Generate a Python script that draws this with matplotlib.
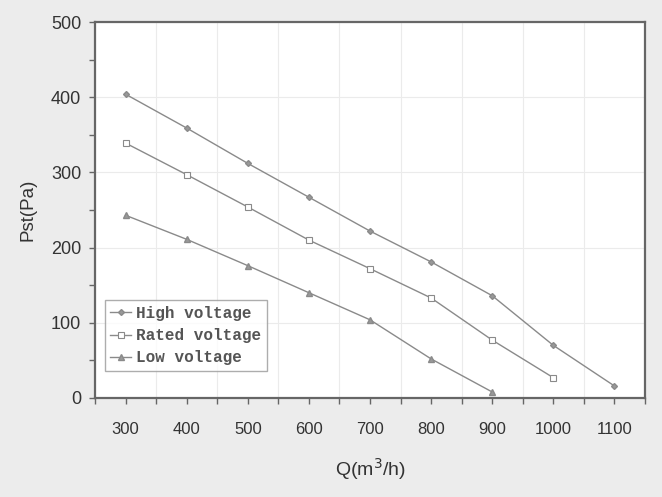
import matplotlib
matplotlib.use("Agg")
import matplotlib.pyplot as plt
from matplotlib.ticker import MultipleLocator

q_high = [300, 400, 500, 600, 700, 800, 900, 1000, 1100]
p_high = [404, 359, 312, 267, 222, 181, 136, 70, 16]
q_rated = [300, 400, 500, 600, 700, 800, 900, 1000]
p_rated = [339, 297, 254, 210, 172, 133, 77, 27]
q_low = [300, 400, 500, 600, 700, 800, 900]
p_low = [243, 211, 176, 140, 104, 52, 8]
x_ticks = [300, 400, 500, 600, 700, 800, 900, 1000, 1100]
y_ticks = [0, 100, 200, 300, 400, 500]

plt.rcParams['font.family'] = ['Liberation Sans', 'DejaVu Sans']
fig = plt.figure(figsize=(6.62, 4.97), dpi=100, facecolor='#ececec')
ax = fig.add_axes([95/662, 1-398/497, (645-95)/662, (398-22)/497])
ax.set_facecolor('white')

lc = '#8a8a8a'
ax.plot(q_high, p_high, color=lc, lw=1.0, marker='D', ms=3, mfc='#999999', mec=lc, label='High voltage')
ax.plot(q_rated, p_rated, color=lc, lw=1.0, marker='s', ms=4, mfc='white', mec=lc, mew=0.8, label='Rated voltage')
ax.plot(q_low, p_low, color=lc, lw=1.0, marker='^', ms=4, mfc='#999999', mec=lc, label='Low voltage')

ax.set_xlim(250, 1150)
ax.set_ylim(0, 500)
ax.set_xticks(x_ticks)
ax.set_yticks(y_ticks)
ax.yaxis.set_minor_locator(MultipleLocator(50))
ax.xaxis.set_minor_locator(MultipleLocator(50))
ax.grid(True, which='major', axis='y', color='#ebebeb', lw=0.8)
ax.grid(True, which='minor', axis='x', color='#ebebeb', lw=0.8)
for s in ax.spines.values():
    s.set_color('#666666')
    s.set_linewidth(1.6)
ax.tick_params(which='both', direction='out', color='#666666', labelcolor='#333333', length=4, width=1.0)
ax.tick_params(axis='x', labelsize=12, pad=13)
ax.tick_params(axis='y', labelsize=13, pad=6)

ax.set_xlabel('Q(m$^3$/h)', fontsize=14, color='#333333', labelpad=14)
ax.set_ylabel('Pst(Pa)', fontsize=13.5, color='#333333', labelpad=10)

leg = ax.legend(loc='lower left', bbox_to_anchor=(0.018, 0.072), frameon=True, fancybox=False,
                edgecolor='#999999', prop={'family': 'Liberation Mono', 'size': 11.5, 'weight': 'bold'},
                handlelength=1.3, handletextpad=0.3, labelspacing=0.45, borderpad=0.35, borderaxespad=0)
leg.get_frame().set_linewidth(1.0)
for t in leg.get_texts():
    t.set_color('#555555')

fig.savefig('out.png', dpi=100, facecolor=fig.get_facecolor())
